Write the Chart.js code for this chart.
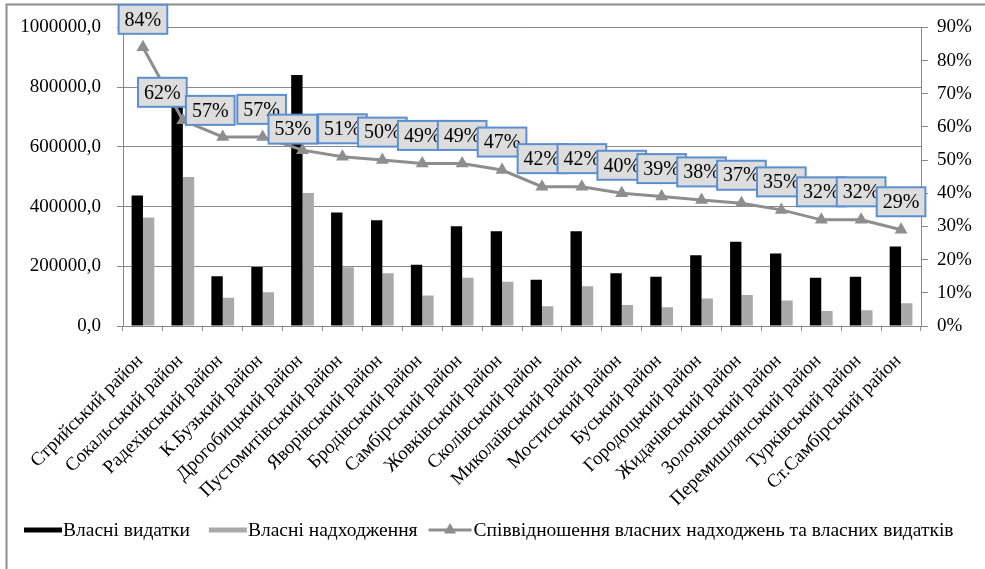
<!DOCTYPE html>
<html><head><meta charset="utf-8">
<script src="https://cdn.jsdelivr.net/npm/chart.js@4.4.1/dist/chart.umd.min.js"></script>
<style>html,body{margin:0;padding:0;background:#fff;}#wrap{width:985px;height:569px;position:relative;}</style>
</head><body><div id="wrap"><canvas id="c" width="985" height="569"></canvas></div>
<script>
const categories = ["Стрийський район","Сокальський район","Радехівський район","К.Бузький район","Дрогобицький район","Пустомитівський район","Яворівський район","Бродівський район","Самбірський район","Жовківський район","Сколівський район","Миколаївський район","Мостиський район","Буський район","Городоцький район","Жидачівський район","Золочівський район","Перемишлянський район","Турківський район","Ст.Самбірський район"];
const ownExpenses = [437000, 805000, 167000, 198000, 841000, 380000, 354000, 205000, 334000, 317000, 155000, 317000, 177000, 165000, 237000, 282000, 243000, 162000, 165000, 266000];
const ownRevenues = [363000, 499000, 95000, 113000, 445000, 197000, 177000, 102000, 162000, 148000, 66000, 133000, 70000, 63000, 92000, 104000, 85000, 50000, 53000, 76000];
const ratioPct = [84, 62, 57, 57, 53, 51, 50, 49, 49, 47, 42, 42, 40, 39, 38, 37, 35, 32, 32, 29];
const seriesNames = ["Власні видатки", "Власні надходження", "Співвідношення власних надходжень та власних видатків"];
const leftMax = 1000000, leftStep = 200000;
const rightMax = 0.9, rightStep = 0.1;

const ratio = ratioPct.map(v => v / 100);
const FONT = '"Liberation Serif", "Times New Roman", serif';
const GRID = '#898989';
// manual nudges of a few data labels (style only), [dx, dy] in px
const labelNudge = { 1: [-20.5, 0], 2: [-12.5, 1.5], 3: [-1, 0.5], 4: [-9.7, 7] };

const framePlugin = {
  id: 'frame',
  beforeDraw(chart) {
    const ctx = chart.ctx;
    ctx.save();
    ctx.fillStyle = '#fff';
    ctx.fillRect(0, 0, chart.width, chart.height);
    ctx.strokeStyle = '#8c8c8c';
    ctx.lineWidth = 2;
    ctx.strokeRect(6.5, 4.5, chart.width + 20, chart.height + 20);
    ctx.restore();
  }
};

const labelPlugin = {
  id: 'ratioLabels',
  afterDatasetsDraw(chart) {
    const meta = chart.getDatasetMeta(2);
    const ctx = chart.ctx;
    ctx.save();
    ctx.font = '20px ' + FONT;
    ctx.textAlign = 'center';
    ctx.textBaseline = 'middle';
    meta.data.forEach((pt, i) => {
      const txt = ratioPct[i] + '%';
      const w = ctx.measureText(txt).width + 12;
      const h = 29;
      const n = labelNudge[i] || [0, 0];
      const cx = pt.x + n[0], cy = pt.y - 28 + n[1];
      ctx.fillStyle = '#dddddd';
      ctx.fillRect(cx - w / 2, cy - h / 2, w, h);
      ctx.strokeStyle = '#5d8fcf';
      ctx.lineWidth = 2;
      ctx.strokeRect(cx - w / 2, cy - h / 2, w, h);
      ctx.fillStyle = '#000';
      ctx.fillText(txt, cx, cy + 1);
    });
    ctx.restore();
  }
};

const legendPlugin = {
  id: 'customLegend',
  afterDraw(chart) {
    const ctx = chart.ctx;
    const ds = chart.data.datasets;
    ctx.save();
    ctx.font = '19.5px ' + FONT;
    ctx.textBaseline = 'alphabetic';
    ctx.fillStyle = '#000';
    const cy = 530, base = 536;
    let x = 24;
    [0, 1].forEach((k, j) => {
      ctx.fillStyle = ds[k].backgroundColor;
      ctx.fillRect(x, cy - 2.5, 38, 5);
      x += 39;
      ctx.fillStyle = '#000';
      ctx.fillText(ds[k].label, x, base);
      x += ctx.measureText(ds[k].label).width + (j === 0 ? 19 : 11);
    });
    ctx.strokeStyle = ds[2].borderColor;
    ctx.lineWidth = 3;
    ctx.beginPath(); ctx.moveTo(x, cy); ctx.lineTo(x + 43, cy); ctx.stroke();
    ctx.fillStyle = ds[2].pointBackgroundColor;
    const tx = x + 21.5, r = 7;
    ctx.beginPath();
    ctx.moveTo(tx, cy - r);
    ctx.lineTo(tx + r * 0.866, cy + r * 0.5);
    ctx.lineTo(tx - r * 0.866, cy + r * 0.5);
    ctx.closePath(); ctx.fill();
    x += 45;
    ctx.fillStyle = '#000';
    ctx.fillText(ds[2].label, x, base);
    ctx.restore();
  }
};

new Chart(document.getElementById('c'), {
  data: {
    labels: categories,
    datasets: [
      { type: 'bar', label: seriesNames[0], data: ownExpenses, backgroundColor: '#000000', yAxisID: 'y', order: 1,
        categoryPercentage: 0.57, barPercentage: 1.0 },
      { type: 'bar', label: seriesNames[1], data: ownRevenues, backgroundColor: '#a9a9a9', yAxisID: 'y', order: 2,
        categoryPercentage: 0.57, barPercentage: 1.0 },
      { type: 'line', label: seriesNames[2], data: ratio, yAxisID: 'y1', order: 0,
        borderColor: '#8e8e8e', borderWidth: 3, pointStyle: 'triangle', pointRadius: 7.5,
        pointBackgroundColor: '#8e8e8e', pointBorderColor: '#8e8e8e', pointBorderWidth: 0, tension: 0, fill: false }
    ]
  },
  options: {
    responsive: false,
    animation: false,
    devicePixelRatio: 1,
    layout: { padding: { top: 25, bottom: 60, left: 0, right: 0 } },
    plugins: { legend: { display: false }, tooltip: { enabled: false } },
    scales: {
      x: {
        type: 'category', offset: true,
        grid: { offset: true, drawOnChartArea: false, tickLength: 5, color: GRID },
        border: { color: GRID },
        ticks: { autoSkip: false, maxRotation: 45, minRotation: 45, padding: 19, labelOffset: -3, color: '#000', font: { family: FONT, size: 19 } },
        afterFit(s) { s.height = 569 - 60 - 326; }
      },
      y: {
        position: 'left', min: 0, max: leftMax,
        grid: { color: GRID, tickLength: 6 },
        border: { color: GRID },
        ticks: { stepSize: leftStep, padding: 16, color: '#000', font: { family: FONT, size: 19 },
          callback: v => v.toFixed(1).replace('.', ',') },
        afterFit(s) { s.width = 123; }
      },
      y1: {
        position: 'right', min: 0, max: rightMax,
        grid: { drawOnChartArea: false, color: GRID, tickLength: 7 },
        border: { color: GRID },
        ticks: { stepSize: rightStep, padding: 9, color: '#000', font: { family: FONT, size: 19 },
          callback: v => Math.round(v * 100) + '%' },
        afterFit(s) { s.width = 64; }
      }
    }
  },
  plugins: [framePlugin, labelPlugin, legendPlugin]
});
</script>
</body></html>
